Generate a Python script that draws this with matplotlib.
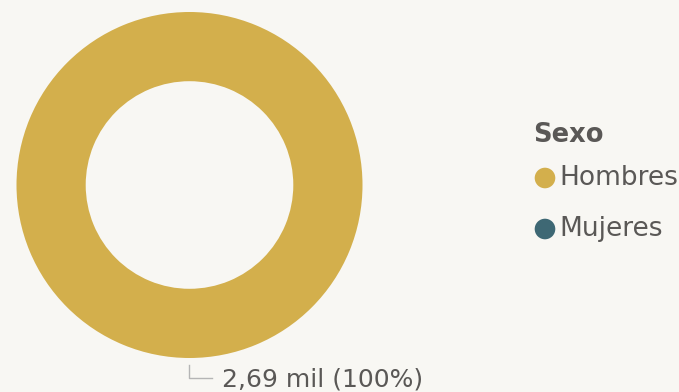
import matplotlib
matplotlib.use("Agg")
import matplotlib.pyplot as plt

# data
categorias = ["Hombres", "Mujeres"]
valores = [2690, 0]
colores = ["#D3AF4C", "#3E6874"]
etiqueta = "2,69 mil (100%)"
titulo_leyenda = "Sexo"

bg = "#F8F7F3"
gris = "#5A5856"

W, H = 679, 392
fig = plt.figure(figsize=(W / 100, H / 100), dpi=100, facecolor=bg)

# donut, centre (189.5, 185) px, radius 173 px
cx, cy, R = 189.5, 185, 173
ax = fig.add_axes([(cx - R) / W, (H - cy - R) / H, 2 * R / W, 2 * R / H])
ax.set_facecolor(bg)
ax.pie(valores, colors=colores, radius=1, startangle=90, counterclock=False,
       wedgeprops=dict(width=0.4, edgecolor="none", linewidth=0))
ax.set_xlim(-1, 1)
ax.set_ylim(-1, 1)
ax.set_aspect("auto")
ax.axis("off")

# overlay in pixel coords for legend and data label
ov = fig.add_axes([0, 0, 1, 1], facecolor="none")
ov.set_xlim(0, W)
ov.set_ylim(H, 0)
ov.axis("off")

# leader line + label
ov.plot([189, 189, 212], [365, 378, 378], color="#B5B5B5", lw=1)
ov.text(222, 379, etiqueta, fontsize=18, color=gris, va="center", ha="left",
        family="DejaVu Sans")

# legend
ov.text(533, 135, titulo_leyenda, fontsize=18.5, fontweight="bold", color=gris,
        va="center", ha="left")
for i, (cat, col) in enumerate(zip(categorias, colores)):
    y = 178 + i * 51
    ov.scatter([545], [y], s=220, color=col, edgecolors="none")
    ov.text(559, y, cat, fontsize=19, color=gris, va="center", ha="left")

fig.savefig("out.png", dpi=100, facecolor=bg)
